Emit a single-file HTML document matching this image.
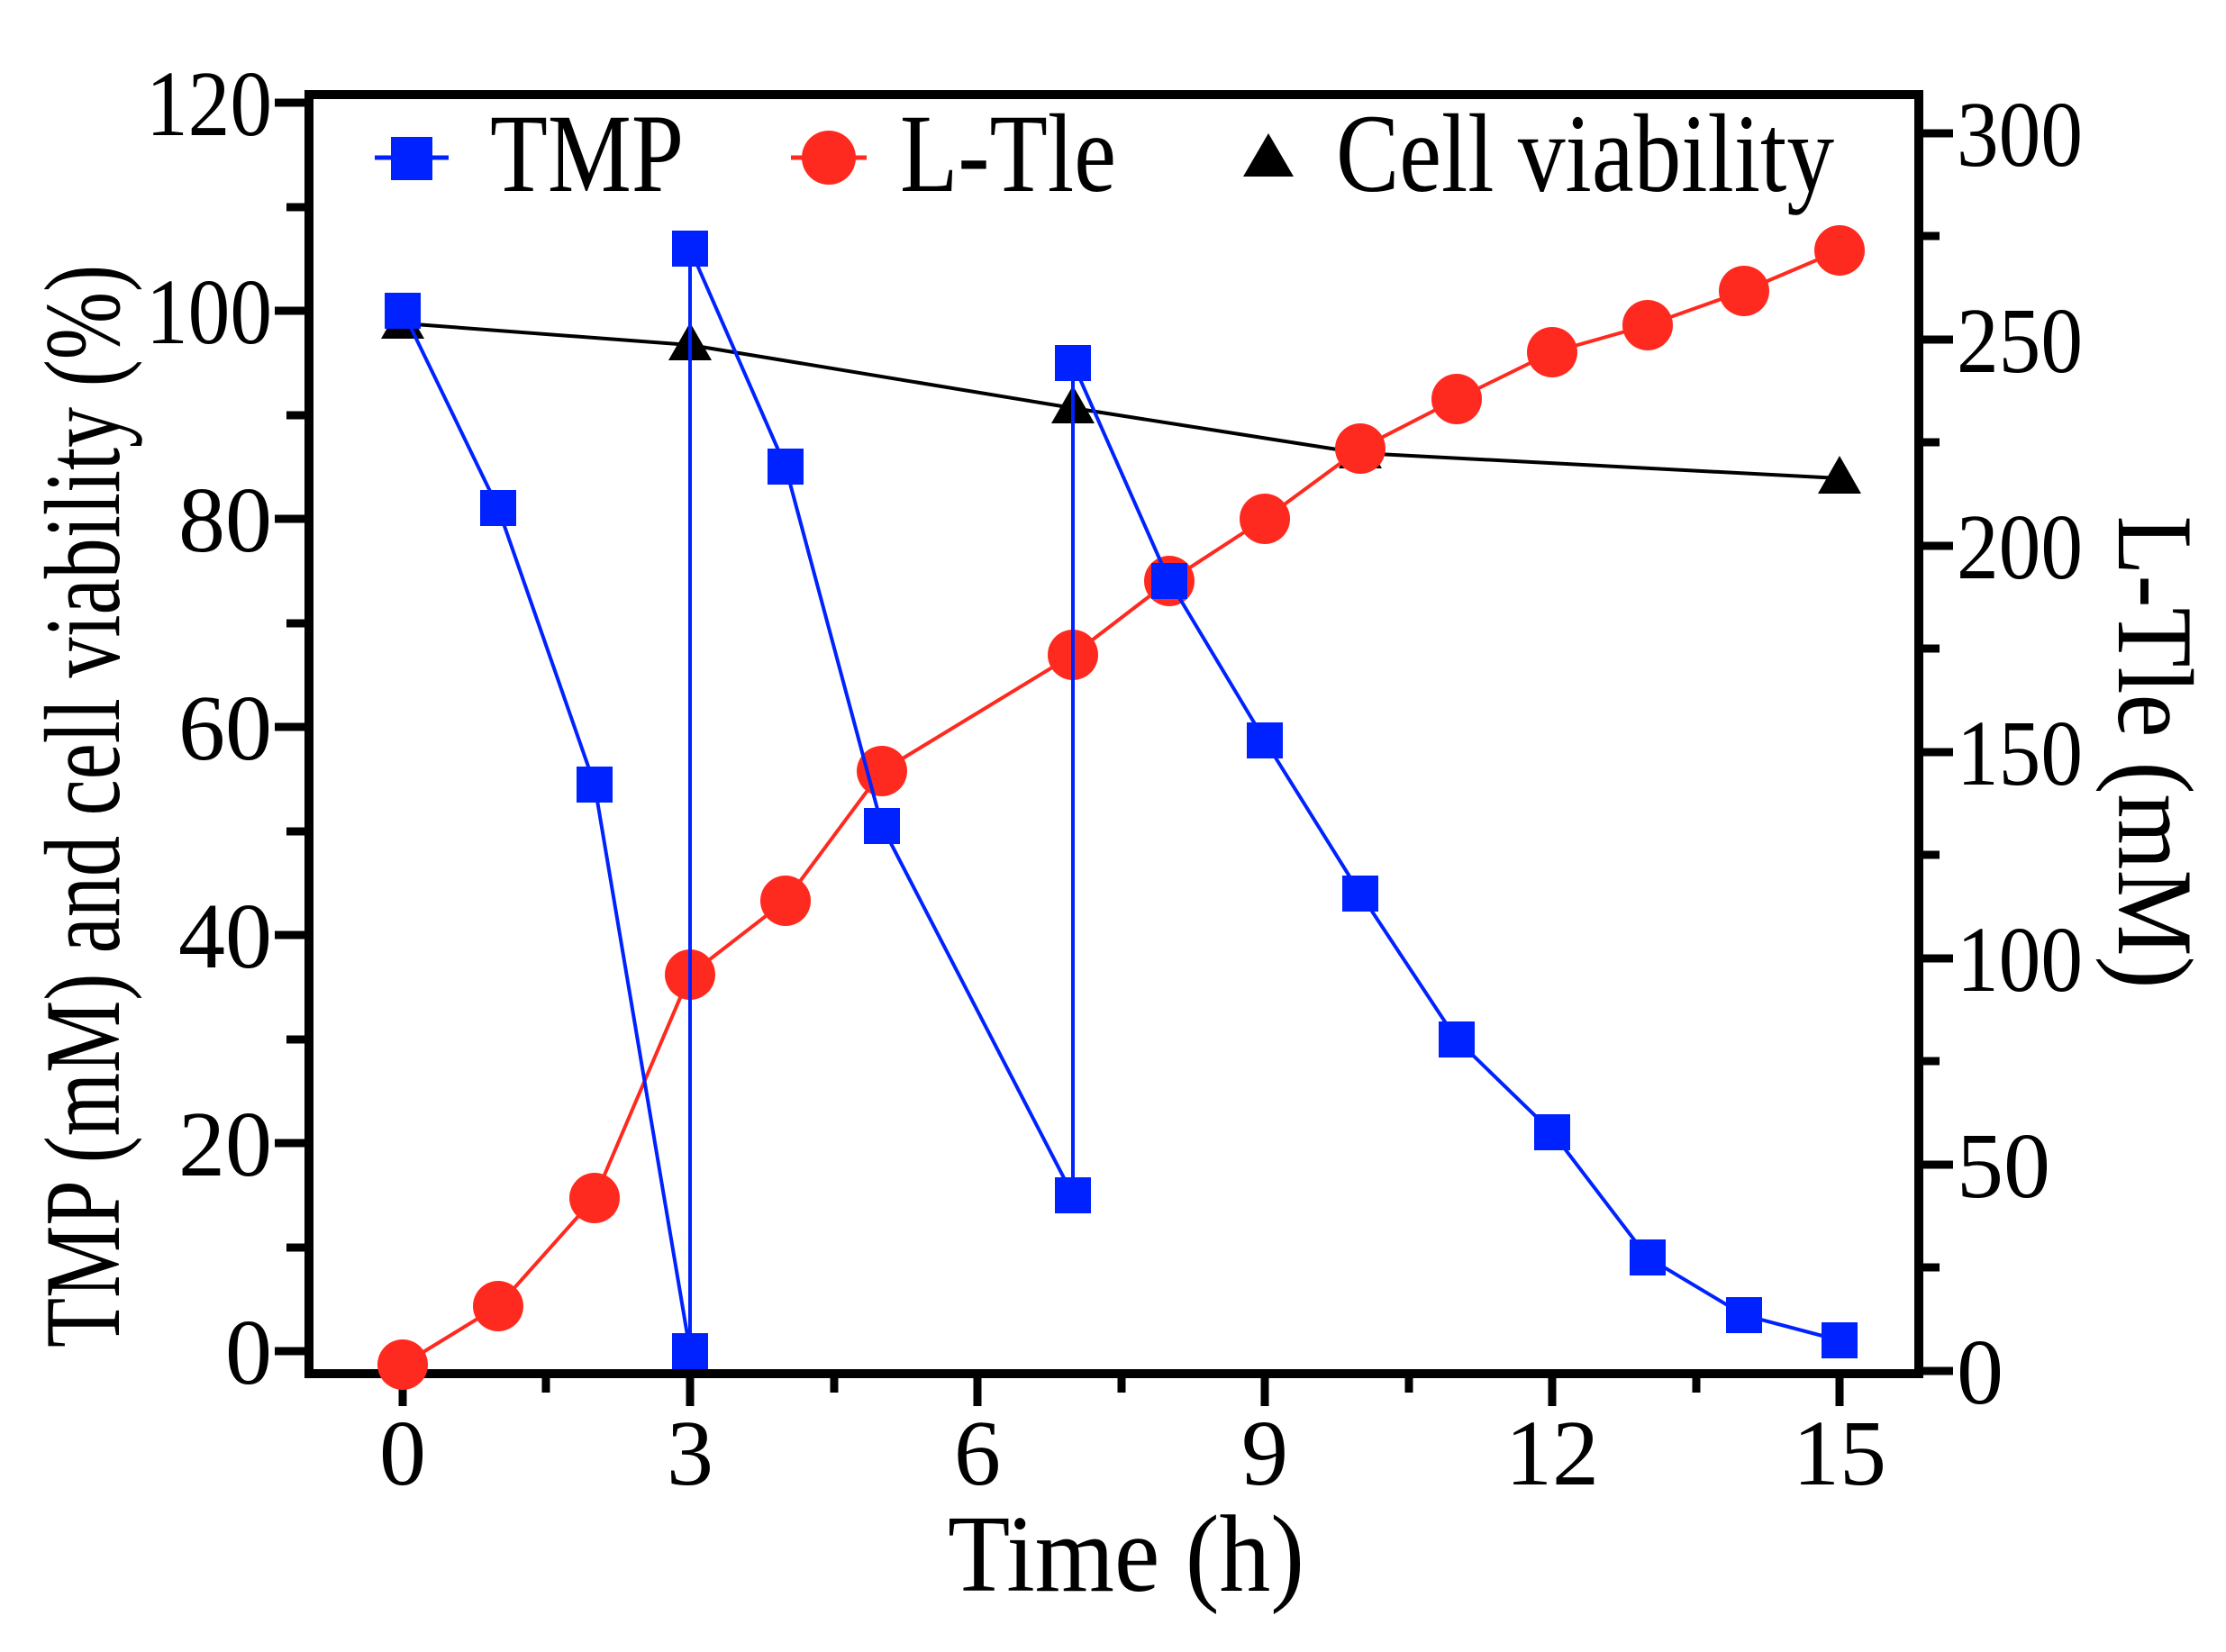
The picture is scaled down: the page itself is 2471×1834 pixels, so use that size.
<!DOCTYPE html>
<html><head><meta charset="utf-8"><style>html,body{margin:0;padding:0;background:#fff}svg{display:block}</style></head>
<body>
<svg width="2471" height="1834" viewBox="0 0 2471 1834" xmlns="http://www.w3.org/2000/svg" font-family="Liberation Serif, serif">
<g stroke="#000" stroke-width="10" fill="none">
<rect x="343" y="105" width="1787" height="1420"/>
</g>
<g stroke="#000" stroke-width="9">
<line x1="305" y1="1500" x2="343" y2="1500"/><line x1="318" y1="1385" x2="343" y2="1385"/>
<line x1="305" y1="1269" x2="343" y2="1269"/><line x1="318" y1="1154" x2="343" y2="1154"/>
<line x1="305" y1="1038" x2="343" y2="1038"/><line x1="318" y1="923" x2="343" y2="923"/>
<line x1="305" y1="807" x2="343" y2="807"/><line x1="318" y1="692" x2="343" y2="692"/>
<line x1="305" y1="576" x2="343" y2="576"/><line x1="318" y1="461" x2="343" y2="461"/>
<line x1="305" y1="345" x2="343" y2="345"/><line x1="318" y1="230" x2="343" y2="230"/>
<line x1="305" y1="114" x2="343" y2="114"/>
<line x1="2130" y1="1522" x2="2168" y2="1522"/><line x1="2130" y1="1407" x2="2153" y2="1407"/>
<line x1="2130" y1="1293" x2="2168" y2="1293"/><line x1="2130" y1="1178" x2="2153" y2="1178"/>
<line x1="2130" y1="1064" x2="2168" y2="1064"/><line x1="2130" y1="949" x2="2153" y2="949"/>
<line x1="2130" y1="835" x2="2168" y2="835"/><line x1="2130" y1="720" x2="2153" y2="720"/>
<line x1="2130" y1="606" x2="2168" y2="606"/><line x1="2130" y1="491" x2="2153" y2="491"/>
<line x1="2130" y1="377" x2="2168" y2="377"/><line x1="2130" y1="262" x2="2153" y2="262"/>
<line x1="2130" y1="148" x2="2168" y2="148"/>
<line x1="447" y1="1525" x2="447" y2="1561"/><line x1="606" y1="1525" x2="606" y2="1546"/>
<line x1="766" y1="1525" x2="766" y2="1561"/><line x1="926" y1="1525" x2="926" y2="1546"/>
<line x1="1085" y1="1525" x2="1085" y2="1561"/><line x1="1245" y1="1525" x2="1245" y2="1546"/>
<line x1="1404" y1="1525" x2="1404" y2="1561"/><line x1="1564" y1="1525" x2="1564" y2="1546"/>
<line x1="1723" y1="1525" x2="1723" y2="1561"/><line x1="1883" y1="1525" x2="1883" y2="1546"/>
<line x1="2042" y1="1525" x2="2042" y2="1561"/>
</g>
<g font-size="104" fill="#000" text-anchor="end">
<text x="302" y="1536">0</text><text x="302" y="1305">20</text><text x="302" y="1074">40</text>
<text x="302" y="843">60</text><text x="302" y="612">80</text>
<text x="302" y="381" textLength="140" lengthAdjust="spacingAndGlyphs">100</text>
<text x="302" y="150" textLength="140" lengthAdjust="spacingAndGlyphs">120</text>
</g>
<g font-size="104" fill="#000">
<text x="2172" y="1558">0</text><text x="2172" y="1329">50</text>
<text x="2172" y="1100" textLength="140" lengthAdjust="spacingAndGlyphs">100</text>
<text x="2172" y="871" textLength="140" lengthAdjust="spacingAndGlyphs">150</text>
<text x="2172" y="642" textLength="140" lengthAdjust="spacingAndGlyphs">200</text>
<text x="2172" y="413" textLength="140" lengthAdjust="spacingAndGlyphs">250</text>
<text x="2172" y="184" textLength="140" lengthAdjust="spacingAndGlyphs">300</text>
</g>
<g font-size="104" fill="#000" text-anchor="middle">
<text x="447" y="1648">0</text><text x="766" y="1648">3</text><text x="1085" y="1648">6</text>
<text x="1404" y="1648">9</text><text x="1723" y="1648">12</text><text x="2042" y="1648">15</text>
</g>
<text x="1052" y="1766" font-size="122" textLength="396" lengthAdjust="spacingAndGlyphs">Time (h)</text>
<text transform="translate(132,895) rotate(-90)" text-anchor="middle" font-size="120" textLength="1202" lengthAdjust="spacingAndGlyphs">TMP (mM) and cell viability (%)</text>
<text transform="translate(2352,835) rotate(90)" text-anchor="middle" font-size="120" textLength="525" lengthAdjust="spacingAndGlyphs">L-Tle (mM)</text>
<polyline fill="none" stroke="#000" stroke-width="4" points="447,359 766,383 1191,453 1510,503 2042,531"/>
<g fill="#000">
<polygon points="447,334 423,376 471,376"/><polygon points="766,358 742,400 790,400"/>
<polygon points="1191,428 1167,470 1215,470"/><polygon points="1510,478 1486,520 1534,520"/>
<polygon points="2042,506 2018,548 2066,548"/>
</g>
<polyline fill="none" stroke="#ff2a1f" stroke-width="4" points="447,1515 553,1450 660,1330 766,1082 872,1000 979,856 1191,727 1298,645 1404,576 1510,498 1617,443 1723,391 1829,361 1936,323 2042,278"/>
<g fill="#ff2a1f">
<circle cx="447" cy="1515" r="28"/><circle cx="553" cy="1450" r="28"/><circle cx="660" cy="1330" r="28"/>
<circle cx="766" cy="1082" r="28"/><circle cx="872" cy="1000" r="28"/><circle cx="979" cy="856" r="28"/>
<circle cx="1191" cy="727" r="28"/><circle cx="1298" cy="645" r="28"/><circle cx="1404" cy="576" r="28"/>
<circle cx="1510" cy="498" r="28"/><circle cx="1617" cy="443" r="28"/><circle cx="1723" cy="391" r="28"/>
<circle cx="1829" cy="361" r="28"/><circle cx="1936" cy="323" r="28"/><circle cx="2042" cy="278" r="28"/>
</g>
<polyline fill="none" stroke="#0022ff" stroke-width="4" points="447,345 553,564 660,871 766,1500 766,276 872,518 979,917 1191,1327 1191,403 1298,645 1404,822 1510,992 1617,1154 1723,1257 1829,1396 1936,1460 2042,1488"/>
<g fill="#0022ff">
<rect x="427" y="325" width="40" height="40"/><rect x="533" y="544" width="40" height="40"/><rect x="640" y="851" width="40" height="40"/>
<rect x="746" y="1480" width="40" height="40"/><rect x="746" y="256" width="40" height="40"/><rect x="852" y="498" width="40" height="40"/>
<rect x="959" y="897" width="40" height="40"/><rect x="1171" y="1307" width="40" height="40"/><rect x="1171" y="383" width="40" height="40"/>
<rect x="1278" y="625" width="40" height="40"/><rect x="1384" y="802" width="40" height="40"/><rect x="1490" y="972" width="40" height="40"/>
<rect x="1597" y="1134" width="40" height="40"/><rect x="1703" y="1237" width="40" height="40"/><rect x="1809" y="1376" width="40" height="40"/>
<rect x="1916" y="1440" width="40" height="40"/><rect x="2022" y="1468" width="40" height="40"/>
</g>
<line x1="416" y1="175" x2="498" y2="175" stroke="#0022ff" stroke-width="5"/>
<rect x="434" y="152" width="46" height="48" fill="#0022ff"/>
<text x="544" y="212" font-size="124" textLength="215" lengthAdjust="spacingAndGlyphs">TMP</text>
<line x1="878" y1="175" x2="962" y2="175" stroke="#ff2a1f" stroke-width="5"/>
<circle cx="920" cy="175" r="30" fill="#ff2a1f"/>
<text x="999" y="212" font-size="124" textLength="240" lengthAdjust="spacingAndGlyphs">L-Tle</text>
<polygon points="1408,148 1380,196 1436,196" fill="#000"/>
<text x="1483" y="212" font-size="124" textLength="553" lengthAdjust="spacingAndGlyphs">Cell viability</text>
</svg>
</body></html>
